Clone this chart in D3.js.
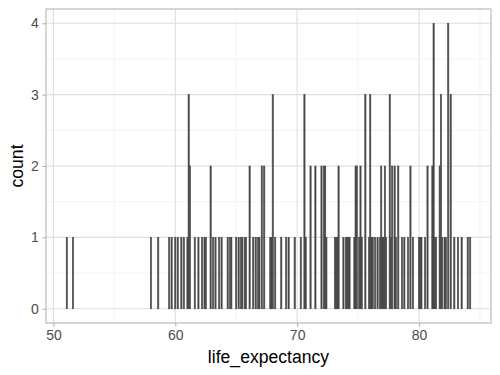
<!DOCTYPE html>
<html>
<head>
<meta charset="utf-8">
<script src="https://cdn.jsdelivr.net/npm/d3@7"></script>
<style>
  body { margin: 0; background: #fff; }
  text { font-family: "Liberation Sans", Arial, sans-serif; }
</style>
</head>
<body>
<svg id="chart" width="500" height="375"></svg>
<script>
// histogram bins (centre of each 0.1-year bin) and their counts
const binWidth = 0.1;
const binCenters = [51.1, 51.6, 58.0, 58.6, 59.5, 59.7, 60.0, 60.2, 60.5, 60.7,
  61.0, 61.1, 61.2, 61.6, 61.9, 62.2, 62.4, 62.5, 62.9, 63.1,
  63.3, 63.6, 63.8, 64.3, 64.5, 64.6, 65.0, 65.2, 65.4, 65.5,
  65.7, 65.8, 66.1, 66.4, 66.6, 66.8, 66.9, 67.1, 67.3, 67.8,
  67.9, 68.0, 68.2, 68.7, 69.1, 69.3, 69.8, 70.3, 70.6, 70.7,
  71.1, 71.5, 72.0, 72.2, 72.3, 72.4, 73.1, 73.2, 73.3, 73.4,
  73.8, 74.0, 74.1, 74.2, 74.3, 74.7, 74.8, 74.9, 75.1, 75.2,
  75.3, 75.6, 75.9, 76.0, 76.1, 76.2, 76.4, 76.6, 76.8, 76.9,
  77.0, 77.1, 77.2, 77.3, 77.6, 77.7, 77.8, 78.0, 78.1, 78.3,
  78.6, 78.8, 79.1, 79.3, 79.5, 80.0, 80.1, 80.2, 80.5, 80.7,
  81.1, 81.2, 81.3, 81.4, 81.7, 81.8, 81.9, 82.1, 82.2, 82.4,
  82.6, 82.9, 83.2, 83.5, 84.0, 84.2];
const binCounts = [1, 1, 1, 1, 1, 1, 1, 1, 1, 1,
  1, 3, 2, 1, 1, 1, 1, 1, 2, 1,
  1, 1, 1, 1, 1, 1, 1, 1, 1, 1,
  1, 1, 2, 1, 1, 1, 1, 2, 2, 1,
  1, 3, 1, 1, 1, 1, 1, 1, 3, 1,
  2, 2, 2, 2, 2, 1, 1, 1, 1, 2,
  1, 1, 1, 1, 1, 1, 2, 2, 1, 2,
  1, 3, 1, 3, 1, 1, 1, 1, 1, 2,
  1, 1, 2, 1, 3, 1, 2, 2, 1, 2,
  1, 1, 1, 2, 1, 1, 1, 1, 1, 2,
  2, 4, 1, 1, 2, 3, 1, 1, 1, 4,
  3, 1, 1, 1, 1, 1];

const xTicks = [50, 60, 70, 80];
const xMinor = [55, 65, 75, 85];
const yTicks = [0, 1, 2, 3, 4];
const yMinor = [0.5, 1.5, 2.5, 3.5];

const bins = binCenters.map((c, i) => ({ x0: c - binWidth / 2, x1: c + binWidth / 2, n: binCounts[i] }));

const svg = d3.select('#chart');
const panel = { left: 46, right: 491, top: 9, bottom: 323 };

// ggplot style 5% expansion
const lo = d3.min(bins, d => d.x0), hi = d3.max(bins, d => d.x1);
const pad = (hi - lo) * 0.05;
const x = d3.scaleLinear().domain([lo - pad, hi + pad]).range([panel.left, panel.right]);
const yMax = d3.max(binCounts);
const y = d3.scaleLinear().domain([-yMax * 0.05, yMax * 1.05]).range([panel.bottom, panel.top]);

const g = svg.append('g');

// minor grid
g.selectAll('line.xminor').data(xMinor.filter(v => x(v) < panel.right)).enter().append('line')
  .attr('x1', d => x(d)).attr('x2', d => x(d)).attr('y1', panel.top).attr('y2', panel.bottom)
  .attr('stroke', '#ececec').attr('stroke-width', 0.6);
g.selectAll('line.yminor').data(yMinor).enter().append('line')
  .attr('x1', panel.left).attr('x2', panel.right).attr('y1', d => y(d)).attr('y2', d => y(d))
  .attr('stroke', '#ececec').attr('stroke-width', 0.6);

// major grid
g.selectAll('line.xmajor').data(xTicks).enter().append('line')
  .attr('x1', d => x(d)).attr('x2', d => x(d)).attr('y1', panel.top).attr('y2', panel.bottom)
  .attr('stroke', '#dedede').attr('stroke-width', 1.07);
g.selectAll('line.ymajor').data(yTicks).enter().append('line')
  .attr('x1', panel.left).attr('x2', panel.right).attr('y1', d => y(d)).attr('y2', d => y(d))
  .attr('stroke', '#dedede').attr('stroke-width', 1.07);

// bars
g.selectAll('rect.bar').data(bins).enter().append('rect')
  .attr('class', 'bar')
  .attr('x', d => x(d.x0))
  .attr('width', d => x(d.x1) - x(d.x0))
  .attr('y', d => y(d.n))
  .attr('height', d => y(0) - y(d.n))
  .attr('fill', '#474747')
  .attr('stroke', '#474747')
  .attr('stroke-width', 0.6);

// panel border
g.append('rect')
  .attr('x', panel.left).attr('y', panel.top)
  .attr('width', panel.right - panel.left).attr('height', panel.bottom - panel.top)
  .attr('fill', 'none').attr('stroke', '#b3b3b3').attr('stroke-width', 1.07);

// axes
const xAxis = svg.append('g').attr('transform', `translate(0,${panel.bottom})`)
  .call(d3.axisBottom(x).tickValues(xTicks).tickSize(3.7).tickPadding(3));
const yAxis = svg.append('g').attr('transform', `translate(${panel.left},0)`)
  .call(d3.axisLeft(y).tickValues(yTicks).tickFormat(d3.format('d')).tickSize(3.7).tickPadding(3.5));
[xAxis, yAxis].forEach(a => {
  a.select('.domain').remove();
  a.selectAll('.tick line').attr('stroke', '#b3b3b3').attr('stroke-width', 1.07);
  a.selectAll('.tick text').attr('fill', '#4d4d4d').style('font-size', '14px');
});

svg.append('text')
  .attr('x', (panel.left + panel.right) / 2).attr('y', 363)
  .attr('text-anchor', 'middle').attr('fill', '#000').style('font-size', '17.6px')
  .text('life_expectancy');

svg.append('text')
  .attr('transform', `translate(23,${(panel.top + panel.bottom) / 2}) rotate(-90)`)
  .attr('text-anchor', 'middle').attr('fill', '#000').style('font-size', '17.6px')
  .text('count');
</script>
</body>
</html>
